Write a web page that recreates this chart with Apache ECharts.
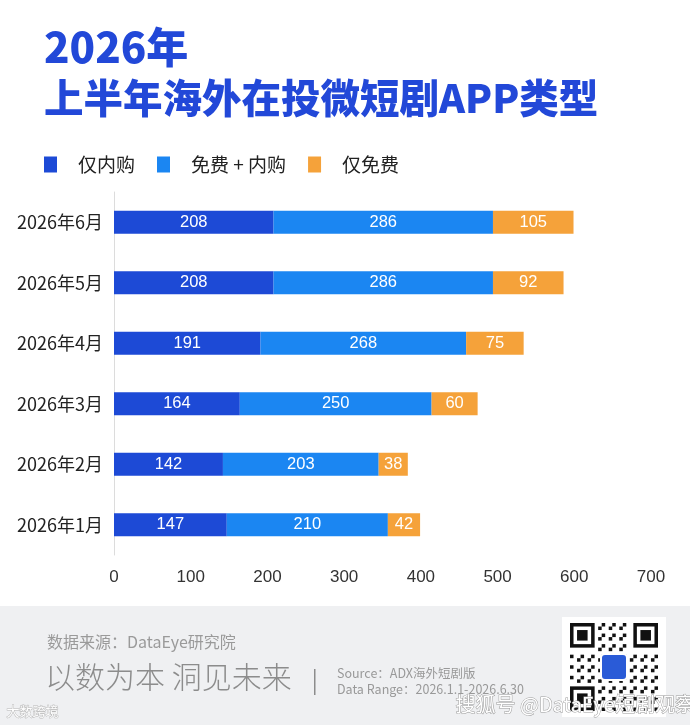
<!DOCTYPE html>
<html>
<head>
<meta charset="utf-8">
<script src="https://cdn.jsdelivr.net/npm/echarts@6/dist/echarts.min.js"></script>
<style>
  html, body { margin: 0; padding: 0; background: #fff; }
  #main { width: 690px; height: 725px; }
</style>
</head>
<body>
<div id="main"></div>
<script>
// data
const months = ["2026年1月", "2026年2月", "2026年3月", "2026年4月", "2026年5月", "2026年6月"];
const iapOnly = [147, 142, 164, 191, 208, 208];
const freePlusIap = [210, 203, 250, 268, 286, 286];
const freeOnly = [42, 38, 60, 75, 92, 105];
const xTicks = [0, 100, 200, 300, 400, 500, 600, 700];

const seriesNames = ["仅内购", "免费 + 内购", "仅免费"];
const colors = ["#1d4ad6", "#1b86f2", "#f5a23a"];
const cjk = "'Noto Sans CJK SC', 'Liberation Sans', sans-serif";

// simple QR-looking decoration (not data)
function qrGraphic(x0, y0, size) {
  const n = 25, m = size / n;
  const kids = [{ type: "rect", shape: { x: x0 - 8, y: y0 - 6, width: size + 16, height: size + 12 }, style: { fill: "#fff" } }];
  const finder = (fx, fy) => {
    kids.push({ type: "rect", shape: { x: x0 + fx * m, y: y0 + fy * m, width: 7 * m, height: 7 * m }, style: { fill: "#111" } });
    kids.push({ type: "rect", shape: { x: x0 + (fx + 1) * m, y: y0 + (fy + 1) * m, width: 5 * m, height: 5 * m }, style: { fill: "#fff" } });
    kids.push({ type: "rect", shape: { x: x0 + (fx + 2) * m, y: y0 + (fy + 2) * m, width: 3 * m, height: 3 * m }, style: { fill: "#111" } });
  };
  for (let i = 0; i < n; i++) {
    for (let j = 0; j < n; j++) {
      if ((i < 8 && j < 8) || (i > 16 && j < 8) || (i < 8 && j > 16)) continue;
      if ((i * 7 + j * 11 + i * j) % 3 === 0) {
        kids.push({ type: "rect", shape: { x: x0 + i * m, y: y0 + j * m, width: m, height: m }, style: { fill: "#111" } });
      }
    }
  }
  finder(0, 0); finder(18, 0); finder(0, 18);
  kids.push({ type: "rect", shape: { x: x0 + size / 2 - 13, y: y0 + size / 2 - 13, width: 26, height: 26, r: 4 }, style: { fill: "#2a5bd7", stroke: "#fff", lineWidth: 2 } });
  return { type: "group", children: kids };
}

const chart = echarts.init(document.getElementById("main"));

const labelStyle = {
  show: true,
  position: "inside",
  color: "#fff",
  fontSize: 16.5,
  fontFamily: "'Liberation Sans', sans-serif"
};

chart.setOption({
  backgroundColor: "#fff",
  animation: false,
  color: colors,
  legend: {
    left: 39,
    top: 150,
    icon: "rect",
    itemWidth: 13,
    itemHeight: 16,
    itemGap: 22,
    textStyle: { fontSize: 19, color: "#222", fontFamily: cjk, padding: [0, 0, 0, 16] },
    data: seriesNames
  },
  grid: { left: 114, right: 39, top: 192, bottom: 170 },
  xAxis: {
    type: "value",
    min: xTicks[0],
    max: xTicks[xTicks.length - 1],
    interval: 100,
    axisLine: { show: false },
    axisTick: { show: false },
    splitLine: { show: false },
    axisLabel: { fontSize: 17, color: "#333", margin: 14, fontFamily: "'Liberation Sans', sans-serif" }
  },
  yAxis: {
    type: "category",
    data: months,
    axisLine: { show: true, lineStyle: { color: "#dcdcdc", width: 1 } },
    axisTick: { show: false },
    axisLabel: { fontSize: 18, color: "#222", margin: 11, fontFamily: cjk }
  },
  series: [
    { name: seriesNames[0], type: "bar", stack: "t", data: iapOnly, barWidth: 23, label: labelStyle },
    { name: seriesNames[1], type: "bar", stack: "t", data: freePlusIap, barWidth: 23, label: labelStyle },
    { name: seriesNames[2], type: "bar", stack: "t", data: freeOnly, barWidth: 23, label: labelStyle }
  ],
  graphic: [
    { type: "text", left: 44, top: 26, style: { text: "2026年", fill: "#2248d8", font: "900 42px " + cjk } },
    { type: "text", left: 44, top: 78, style: { text: "上半年海外在投微短剧APP类型", fill: "#2248d8", font: "900 39.5px " + cjk } },
    { type: "rect", left: 0, top: 606, shape: { width: 690, height: 119 }, style: { fill: "#eff0f2" }, z: -1 },
    { type: "text", left: 47, top: 634, style: { text: "数据来源：DataEye研究院", fill: "#9a9a9a", font: "16px " + cjk } },
    { type: "text", left: 45, top: 662, style: { text: "以数为本 洞见未来", fill: "#8c8c8c", font: "300 30px " + cjk } },
    { type: "rect", left: 314, top: 669, shape: { width: 1.5, height: 26 }, style: { fill: "#8c8c8c" } },
    { type: "text", left: 337, top: 667, style: { text: "Source：ADX海外短剧版", fill: "#999", font: "12.5px " + cjk } },
    { type: "text", left: 337, top: 683, style: { text: "Data Range：2026.1.1-2026.6.30", fill: "#999", font: "12.5px " + cjk } },
    qrGraphic(570, 623, 88),
    { type: "text", left: 6, top: 704, style: { text: "大数跨境", fill: "#fff", stroke: "#b8b8b8", lineWidth: 1, font: "13px " + cjk } },
    { type: "text", left: 455, top: 694, style: { text: "搜狐号 @DataEye短剧观察", fill: "#fff", stroke: "#9a9a9a", lineWidth: 1, font: "20px " + cjk } }
  ]
});
</script>
</body>
</html>
